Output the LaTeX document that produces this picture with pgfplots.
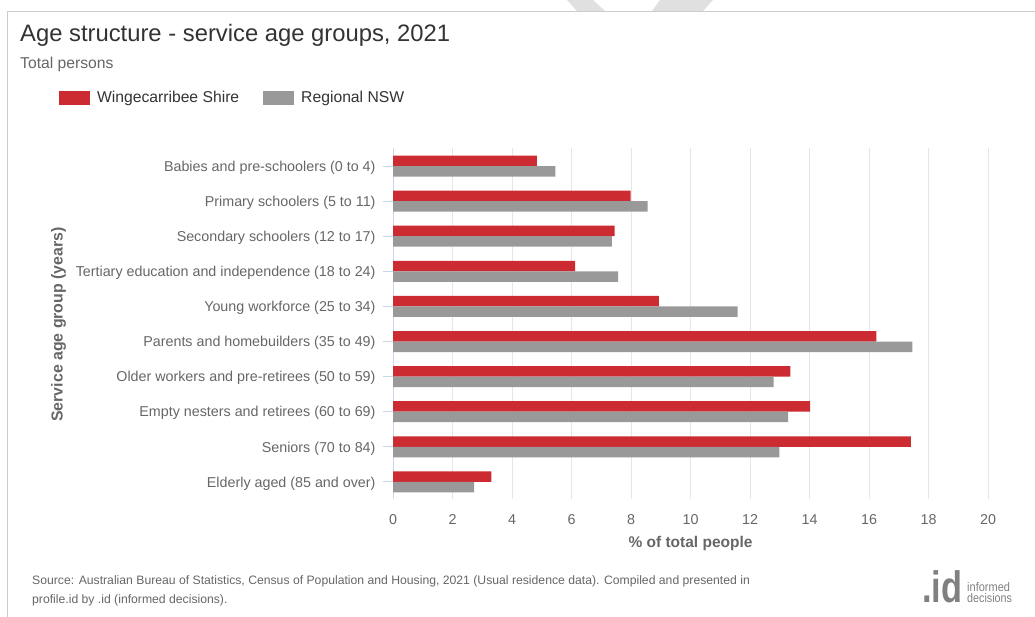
\documentclass[border=0pt]{standalone}
\usepackage{pgfplots}
\pgfplotsset{compat=1.18}
\usepackage{fontspec}
\setmainfont{Liberation Sans}
\definecolor{cred}{RGB}{204,43,49}
\definecolor{cgray}{RGB}{153,153,153}
\definecolor{ctext}{RGB}{51,51,51}
\definecolor{clab}{RGB}{102,102,102}
\definecolor{cgrid}{RGB}{230,230,230}
\definecolor{caxis}{RGB}{204,214,235}
\definecolor{cframe}{RGB}{204,204,204}
\definecolor{cwm}{RGB}{224,224,224}
\definecolor{clogo}{RGB}{128,128,128}
\begin{document}
\begin{tikzpicture}[x=1bp,y=1bp]
\useasboundingbox (0,0) rectangle (1035,617);
% faint watermark at the top
\fill[cwm] (567,617) -- (593,617) -- (605,606) -- (577,606) -- cycle;
\fill[cwm] (660,617) -- (713,617) -- (703,606) -- (652,606) -- cycle;
% frame
\draw[cframe, line width=1bp] (7.5,0) -- (7.5,605.5) -- (1035,605.5);
% title and subtitle
\node[anchor=base west, inner sep=0pt, text=ctext, font=\fontsize{23.8bp}{28bp}\selectfont] at (20,575) {Age structure - service age groups, 2021};
\node[anchor=base west, inner sep=0pt, text=clab, font=\fontsize{15.7bp}{18bp}\selectfont] at (20,548.7) {Total persons};
\begin{axis}[
  at={(393bp,117.5bp)}, anchor=south west, scale only axis,
  width=595bp, height=351bp,
  xmin=0, xmax=20, ymin=-0.5, ymax=9.5,
  xbar, bar width=10.5bp,
  axis lines*=left,
  x axis line style={draw=none},
  y axis line style={caxis, line width=1bp, -},
  xtick={0,2,...,20}, ytick={0,...,9},
  yticklabels={Elderly aged (85 and over), Seniors (70 to 84), Empty nesters and retirees (60 to 69), Older workers and pre-retirees (50 to 59), Parents and homebuilders (35 to 49), Young workforce (25 to 34), Tertiary education and independence (18 to 24), Secondary schoolers (12 to 17), Primary schoolers (5 to 11), Babies and pre-schoolers (0 to 4)},
  xmajorgrids, major x grid style={cgrid, line width=1bp},
  major x tick style={draw=none},
  ytick align=outside, ytick pos=left,
  major y tick style={caxis, line width=1bp},
  major tick length=10bp,
  tick label style={font=\fontsize{14.3bp}{17bp}\selectfont, text=clab},
  /pgf/number format/assume math mode=true,
  xticklabel style={yshift=-12bp},
  yticklabel style={xshift=-4bp, yshift=-1.5bp},
  xlabel={\% of total people},
  xlabel style={at={(axis description cs:0.5,0)}, anchor=base, yshift=-48.5bp, font=\bfseries\fontsize{15.5bp}{18bp}\selectfont, text=clab},
  ylabel={Service age group (years)},
  ylabel style={at={(axis description cs:-0.5551,0.4986)}, anchor=base, rotate=0, font=\bfseries\fontsize{15.9bp}{18bp}\selectfont, text=clab},
  legend style={at={(axis description cs:-0.5613,1.1439)}, anchor=west, draw=none, fill=none, inner sep=0pt, outer sep=0pt,
    font=\fontsize{15.7bp}{18bp}\selectfont, text=ctext, legend columns=2,
    /tikz/every odd column/.append style={column sep=5bp},
    /tikz/every even column/.append style={column sep=22bp}},
]
\addplot[fill=cred, draw=none, bar shift=5.25bp,
  legend image code/.code={\fill[cred] (0bp,-7.3bp) rectangle (31bp,7.3bp);}]
  coordinates {(3.31,0) (17.41,1) (14.02,2) (13.36,3) (16.25,4) (8.94,5) (6.12,6) (7.45,7) (7.99,8) (4.84,9)};
\addlegendentry{Wingecarribee Shire}
\addplot[fill=cgray, draw=none, bar shift=-5.25bp,
  legend image code/.code={\fill[cgray] (0bp,-7.3bp) rectangle (31bp,7.3bp);}]
  coordinates {(2.73,0) (12.99,1) (13.28,2) (12.79,3) (17.46,4) (11.58,5) (7.57,6) (7.36,7) (8.56,8) (5.46,9)};
\addlegendentry{Regional NSW}
\end{axis}
% source
\node[anchor=base west, inner sep=0pt, text=clab, font=\fontsize{12.2bp}{14bp}\selectfont] at (32,32) {Source: Australian Bureau of Statistics, Census of Population and Housing, 2021 (Usual residence data). Compiled and presented in};
\node[anchor=base west, inner sep=0pt, text=clab, font=\fontsize{12.2bp}{14bp}\selectfont] at (32,13) {profile.id by .id (informed decisions).};
% logo
\node[anchor=base west, inner sep=0pt, text=clogo, font=\bfseries\fontsize{44bp}{46bp}\selectfont] at (922,14) {\scalebox{0.78}[1]{.id}};
\node[anchor=base west, inner sep=0pt, text=clogo, font=\fontsize{12.5bp}{14bp}\selectfont] at (967,25) {\scalebox{0.88}[1]{informed}};
\node[anchor=base west, inner sep=0pt, text=clogo, font=\fontsize{12.5bp}{14bp}\selectfont] at (967,14) {\scalebox{0.86}[1]{decisions}};
\end{tikzpicture}
\end{document}
